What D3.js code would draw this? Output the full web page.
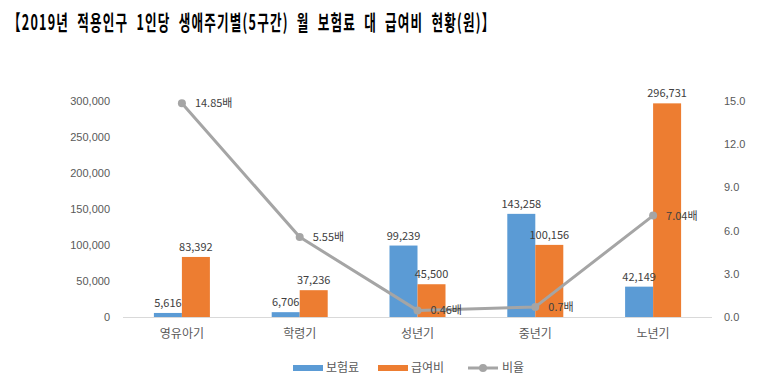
<!DOCTYPE html>
<html>
<head>
<meta charset="utf-8">
<script src="https://cdn.jsdelivr.net/npm/d3@7"></script>
<style>
  body { margin: 0; background: #fff; }
  svg { font-family: "Noto Sans CJK KR", "Noto Sans", sans-serif; }
  .tick text { fill: #595959; font-size: 11px; }
  .label { fill: #404040; font-size: 11px; }
  .title { white-space: pre; }
</style>
</head>
<body>
<svg id="chart" width="770" height="389"></svg>
<script>
const categories = [ '영유아기', '학령기', '성년기', '중년기', '노년기' ]
const premium = [ 5616, 6706, 99239, 143258, 42149 ]
const benefit = [ 83392, 37236, 45500, 100156, 296731 ]
const ratio = [ 14.85, 5.55, 0.46, 0.7, 7.04 ]
const leftTicks = [ 0, 50000, 100000, 150000, 200000, 250000, 300000 ]
const rightTicks = [ 0, 3, 6, 9, 12, 15 ]

const colors = { premium: '#5b9bd5', benefit: '#ed7d31', ratio: '#a5a5a5' }

const svg = d3.select( '#chart' )
const fmt = d3.format( ',' )

// title (condensed, widely spaced like the original)
const title = svg.append( 'text' )
    .attr( 'class', 'title' )
    .attr( 'x', 0 )
    .attr( 'y', 0 )
    .style( 'font-size', '21px' )
    .style( 'font-weight', 'bold' )
    .style( 'letter-spacing', '2px' )
    .style( 'fill', '#000' )
    .text( '【2019년  적용인구  1인당  생애주기별(5구간)  월  보험료  대  급여비  현황(원)】' )

const titleW = title.node().getComputedTextLength()
title.attr( 'transform', `translate(8,30) scale(${ 488 / titleW },1)` )

const x = d3.scaleBand()
    .domain( categories )
    .range( [ 123, 712 ] )

const y = d3.scaleLinear().domain( [ 0, 300000 ] ).range( [ 317, 101 ] )
const y2 = d3.scaleLinear().domain( [ 0, 15 ] ).range( [ 317, 101 ] )

const barW = 28

// left axis
svg.append( 'g' )
    .attr( 'transform', 'translate(110,0)' )
    .call( d3.axisLeft( y ).tickValues( leftTicks ).tickSize( 0 ).tickPadding( 0 ).tickFormat( fmt ) )
    .call( g => g.select( '.domain' ).remove() )

// right axis
svg.append( 'g' )
    .attr( 'transform', 'translate(724,0)' )
    .call( d3.axisRight( y2 ).tickValues( rightTicks ).tickSize( 0 ).tickPadding( 0 ).tickFormat( d3.format( '.1f' ) ) )
    .call( g => g.select( '.domain' ).remove() )

// bottom axis
svg.append( 'line' )
    .attr( 'x1', 123 ).attr( 'x2', 712 )
    .attr( 'y1', y(0) + 0.5 ).attr( 'y2', y(0) + 0.5 )
    .style( 'stroke', '#d9d9d9' )

svg.append( 'g' )
    .selectAll( 'text' )
    .data( categories )
    .join( 'text' )
    .attr( 'x', d => x(d) + x.bandwidth() / 2 )
    .attr( 'y', 338 )
    .attr( 'text-anchor', 'middle' )
    .style( 'font-size', '12px' )
    .style( 'fill', '#595959' )
    .text( d => d )

const center = i => x( categories[i] ) + x.bandwidth() / 2

// bars
svg.append( 'g' )
    .selectAll( 'rect' )
    .data( premium )
    .join( 'rect' )
    .attr( 'x', ( d, i ) => center(i) - barW )
    .attr( 'y', d => y(d) )
    .attr( 'width', barW )
    .attr( 'height', d => y(0) - y(d) )
    .style( 'fill', colors.premium )

svg.append( 'g' )
    .selectAll( 'rect' )
    .data( benefit )
    .join( 'rect' )
    .attr( 'x', ( d, i ) => center(i) )
    .attr( 'y', d => y(d) )
    .attr( 'width', barW )
    .attr( 'height', d => y(0) - y(d) )
    .style( 'fill', colors.benefit )

// line
const line = d3.line()
    .x( ( d, i ) => center(i) )
    .y( d => y2(d) )

svg.append( 'path' )
    .attr( 'd', line( ratio ) )
    .style( 'fill', 'none' )
    .style( 'stroke', colors.ratio )
    .style( 'stroke-width', 3 )
    .style( 'stroke-linejoin', 'round' )

svg.append( 'g' )
    .selectAll( 'circle' )
    .data( ratio )
    .join( 'circle' )
    .attr( 'cx', ( d, i ) => center(i) )
    .attr( 'cy', d => y2(d) )
    .attr( 'r', 4 )
    .style( 'fill', colors.ratio )

// bar labels
svg.append( 'g' )
    .selectAll( 'text' )
    .data( premium )
    .join( 'text' )
    .attr( 'class', 'label' )
    .attr( 'x', ( d, i ) => center(i) - barW / 2 )
    .attr( 'y', d => y(d) - 6 )
    .attr( 'text-anchor', 'middle' )
    .text( fmt )

svg.append( 'g' )
    .selectAll( 'text' )
    .data( benefit )
    .join( 'text' )
    .attr( 'class', 'label' )
    .attr( 'x', ( d, i ) => center(i) + barW / 2 )
    .attr( 'y', d => y(d) - 6 )
    .attr( 'text-anchor', 'middle' )
    .text( fmt )

// ratio labels
svg.append( 'g' )
    .selectAll( 'text' )
    .data( ratio )
    .join( 'text' )
    .attr( 'class', 'label' )
    .attr( 'x', ( d, i ) => center(i) + 13 )
    .attr( 'y', d => y2(d) + 4 )
    .text( d => d + '배' )

// legend
const legend = svg.append( 'g' ).attr( 'transform', 'translate(0,368)' )

legend.append( 'rect' ).attr( 'x', 293 ).attr( 'y', -3 ).attr( 'width', 30 ).attr( 'height', 6 ).style( 'fill', colors.premium )
legend.append( 'text' ).attr( 'x', 326 ).attr( 'y', 4 ).style( 'font-size', '12px' ).style( 'fill', '#595959' ).text( '보험료' )

legend.append( 'rect' ).attr( 'x', 378 ).attr( 'y', -3 ).attr( 'width', 30 ).attr( 'height', 6 ).style( 'fill', colors.benefit )
legend.append( 'text' ).attr( 'x', 411 ).attr( 'y', 4 ).style( 'font-size', '12px' ).style( 'fill', '#595959' ).text( '급여비' )

legend.append( 'line' ).attr( 'x1', 468 ).attr( 'x2', 498 ).attr( 'y1', 0 ).attr( 'y2', 0 ).style( 'stroke', colors.ratio ).style( 'stroke-width', 3 )
legend.append( 'circle' ).attr( 'cx', 483 ).attr( 'cy', 0 ).attr( 'r', 4 ).style( 'fill', colors.ratio )
legend.append( 'text' ).attr( 'x', 502 ).attr( 'y', 4 ).style( 'font-size', '12px' ).style( 'fill', '#595959' ).text( '비율' )
</script>
</body>
</html>
